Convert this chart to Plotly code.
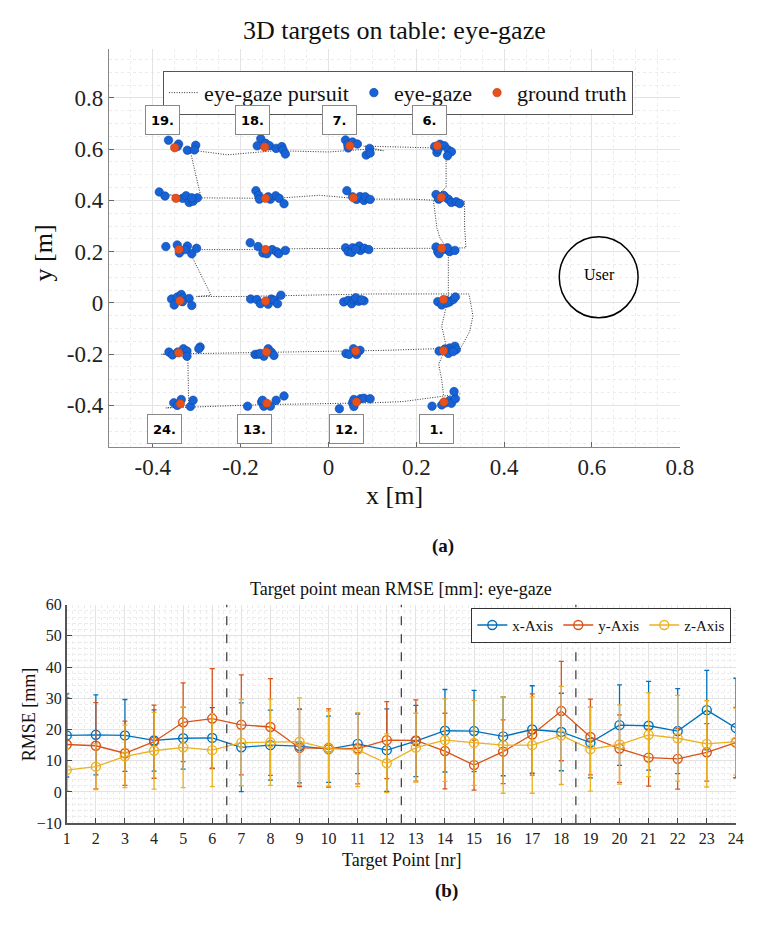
import plotly.graph_objects as go

W, H = 757, 925

# ---------------- top chart data ----------------
gt_x = [0.263, 0.262, 0.262, 0.258, 0.257, 0.248, 0.049, 0.057, 0.057, 0.060, 0.062, 0.064,
        -0.140, -0.141, -0.143, -0.143, -0.143, -0.145, -0.350, -0.347, -0.340, -0.338, -0.341, -0.337]
gt_y = [-0.387, -0.187, 0.013, 0.213, 0.412, 0.613, 0.613, 0.410, 0.209, 0.010, -0.188, -0.387,
        -0.392, -0.192, 0.007, 0.208, 0.408, 0.608, 0.606, 0.408, 0.208, 0.008, -0.195, -0.394]
gt_hidden = [9, 10]  # target numbers whose ground truth is covered by gaze points

gaze_x = [
    0.236, 0.267, 0.276, 0.280, 0.289, 0.286, 0.258,
    0.252, 0.276, 0.288, 0.291, 0.273, 0.284, 0.265,
    0.249, 0.258, 0.268, 0.276, 0.284, 0.289, 0.270,
    0.245, 0.249, 0.265, 0.276, 0.288, 0.252, 0.271,
    0.245, 0.251, 0.265, 0.273, 0.280, 0.291, 0.299, 0.262,
    0.242, 0.254, 0.264, 0.247, 0.273, 0.280, 0.271, 0.250,
    0.039, 0.044, 0.055, 0.066, 0.045, 0.094, 0.086, 0.095,
    0.042, 0.055, 0.064, 0.072, 0.081, 0.084, 0.095,
    0.039, 0.045, 0.055, 0.070, 0.073, 0.082, 0.092, 0.053, 0.062,
    0.035, 0.045, 0.053, 0.058, 0.069, 0.081, 0.062, 0.075,
    0.040, 0.047, 0.057, 0.064, 0.072, 0.066,
    0.025, 0.055, 0.058, 0.073, 0.081, 0.095, 0.058,
    -0.184, -0.152, -0.147, -0.132, -0.119, -0.101, -0.150,
    -0.167, -0.160, -0.147, -0.137, -0.130, -0.124, -0.155,
    -0.177, -0.163, -0.155, -0.137, -0.130, -0.123, -0.116, -0.108,
    -0.178, -0.160, -0.149, -0.140, -0.128, -0.118, -0.113, -0.098,
    -0.165, -0.159, -0.157, -0.132, -0.120, -0.112, -0.101, -0.137,
    -0.154, -0.162, -0.143, -0.134, -0.119, -0.106, -0.103, -0.098,
    -0.364, -0.341, -0.344, -0.321, -0.302, -0.305,
    -0.385, -0.372, -0.332, -0.324, -0.317, -0.308, -0.298, -0.311,
    -0.370, -0.344, -0.339, -0.321, -0.311, -0.300, -0.326,
    -0.357, -0.344, -0.335, -0.330, -0.317, -0.311, -0.351, -0.332,
    -0.363, -0.355, -0.343, -0.330, -0.322, -0.322, -0.292, -0.295,
    -0.352, -0.344, -0.335, -0.314, -0.308,
]
gaze_y = [
    -0.403, -0.390, -0.381, -0.392, -0.374, -0.346, -0.398,
    -0.188, -0.176, -0.169, -0.182, -0.197, -0.190, -0.180,
    0.005, -0.008, 0.010, 0.004, 0.013, 0.023, 0.000,
    0.218, 0.200, 0.209, 0.200, 0.205, 0.192, 0.215,
    0.423, 0.405, 0.414, 0.405, 0.392, 0.395, 0.388, 0.420,
    0.610, 0.619, 0.613, 0.587, 0.597, 0.590, 0.574, 0.600,
    0.636, 0.618, 0.628, 0.620, 0.605, 0.603, 0.577, 0.585,
    0.438, 0.414, 0.404, 0.415, 0.400, 0.414, 0.404,
    0.215, 0.200, 0.215, 0.222, 0.205, 0.213, 0.208, 0.197, 0.210,
    0.004, 0.010, -0.003, 0.013, 0.006, 0.008, 0.020, 0.012,
    -0.197, -0.201, -0.179, -0.201, -0.185, -0.192,
    -0.413, -0.390, -0.404, -0.374, -0.372, -0.374, -0.377,
    -0.403, -0.387, -0.403, -0.403, -0.380, -0.363, -0.380,
    -0.201, -0.200, -0.208, -0.179, -0.192, -0.205, -0.197,
    0.015, 0.013, -0.003, -0.005, 0.015, 0.010, -0.003, 0.030,
    0.235, 0.220, 0.195, 0.192, 0.208, 0.200, 0.192, 0.205,
    0.438, 0.420, 0.405, 0.405, 0.418, 0.408, 0.387, 0.414,
    0.641, 0.613, 0.623, 0.613, 0.603, 0.610, 0.597, 0.581,
    0.635, 0.620, 0.610, 0.596, 0.615, 0.597,
    0.433, 0.417, 0.408, 0.418, 0.392, 0.397, 0.410, 0.410,
    0.220, 0.226, 0.195, 0.222, 0.192, 0.213, 0.208,
    0.015, 0.023, 0.033, 0.019, 0.017, -0.010, -0.008, 0.005,
    -0.192, -0.203, -0.192, -0.179, -0.188, -0.208, -0.172, -0.179,
    -0.390, -0.400, -0.377, -0.404, -0.380,
]

pursuit_x = [0.262, 0.258, 0.251, 0.262, 0.268, 0.258, 0.273, 0.273, 0.273, 0.254, 0.247, 0.239,
             0.268, 0.268, 0.290, 0.260, 0.080, 0.125, 0.090, 0.000, -0.120, -0.230, -0.315,
             -0.290, -0.385, -0.300, -0.120, -0.020, 0.080, 0.190, 0.310, 0.310, 0.313,
             0.250, 0.090, -0.050, -0.200, -0.320, -0.315, -0.267,
             -0.300, -0.200, -0.050, 0.100, 0.200, 0.320, 0.329, 0.322, 0.300,
             0.280, 0.130, -0.050, -0.200, -0.380, -0.320, -0.318,
             -0.370, -0.200, -0.150, 0.100, 0.170, 0.300]
pursuit_y = [-0.360, -0.300, -0.240, -0.195, -0.170, -0.090, 0.020, 0.100, 0.205, 0.254, 0.292, 0.401,
             0.453, 0.562, 0.590, 0.604, 0.612, 0.594, 0.600, 0.589, 0.594, 0.578, 0.597,
             0.412, 0.425, 0.410, 0.408, 0.420, 0.405, 0.405, 0.395, 0.300, 0.215,
             0.213, 0.213, 0.212, 0.208, 0.208, 0.196, 0.030,
             0.025, 0.025, 0.030, 0.035, 0.035, 0.035, -0.050, -0.110, -0.180,
             -0.177, -0.185, -0.190, -0.195, -0.200, -0.210, -0.400,
             -0.410, -0.400, -0.397, -0.390, -0.385, -0.355]

label_text = ["19.", "18.", "7.", "6.", "24.", "13.", "12.", "1."]
label_x = [-0.378, -0.173, 0.025, 0.231, -0.374, -0.169, 0.041, 0.247]
label_y = [0.715, 0.715, 0.715, 0.715, -0.492, -0.492, -0.492, -0.492]

top_xticks = [-0.4, -0.2, 0, 0.2, 0.4, 0.6, 0.8]
top_xlabels = ["-0.4", "-0.2", "0", "0.2", "0.4", "0.6", "0.8"]
top_yticks = [-0.4, -0.2, 0, 0.2, 0.4, 0.6, 0.8]
top_ylabels = ["-0.4", "-0.2", "0", "0.2", "0.4", "0.6", "0.8"]

# ---------------- bottom chart data ----------------
targets = list(range(1, 25))
x_mean = [18.1, 18.3, 18.1, 16.5, 17.2, 17.3, 14.3, 15.0, 14.7, 13.7, 15.4, 13.4,
          16.3, 19.6, 19.5, 17.8, 20.0, 19.2, 15.8, 21.4, 21.2, 19.5, 26.2, 20.5]
x_err = [13.3, 12.8, 11.5, 9.8, 9.9, 9.7, 14.2, 11.2, 11.8, 10.6, 9.5, 13.2,
         11.4, 13.2, 13.0, 12.6, 14.0, 12.4, 11.3, 12.9, 14.2, 13.6, 12.7, 15.9]
y_mean = [15.2, 14.8, 12.4, 16.1, 22.3, 23.5, 21.5, 20.8, 14.1, 14.1, 13.9, 16.6,
          16.5, 13.1, 8.6, 12.9, 18.4, 25.9, 17.6, 13.9, 11.0, 10.6, 12.7, 15.8]
y_err = [15.0, 13.8, 10.3, 11.7, 12.6, 16.0, 16.0, 15.5, 12.4, 12.5, 11.3, 12.3,
         13.0, 12.1, 8.0, 10.2, 13.0, 15.9, 12.1, 10.8, 9.1, 9.7, 9.2, 11.3]
z_mean = [7.0, 8.1, 11.4, 13.2, 14.3, 13.4, 15.8, 15.9, 16.1, 13.9, 13.5, 9.2,
          14.2, 16.6, 15.7, 15.0, 15.0, 18.1, 13.7, 15.2, 18.3, 17.2, 15.4, 16.1]
z_err = [6.8, 7.3, 10.0, 12.3, 12.9, 11.7, 13.8, 13.8, 14.0, 12.0, 11.8, 9.4,
         11.0, 13.2, 13.6, 15.4, 15.4, 15.7, 13.4, 12.7, 13.4, 13.7, 13.8, 10.7]
separators = [6.5, 12.5, 18.5]

SERIF = "Liberation Serif"
BLUE, RED, YEL = "#0072BD", "#D95319", "#EDB120"


def px(x):
    return x / W


def py(y):
    return 1 - y / H


fig = go.Figure()

# pursuit
fig.add_trace(go.Scatter(x=pursuit_x, y=pursuit_y, mode="lines", name="eye-gaze pursuit",
                         line=dict(color="#333", width=1, dash="1px,1.5px"), xaxis="x", yaxis="y"))
# hidden ground truths (under gaze)
hx = [gt_x[i - 1] for i in gt_hidden]
hy = [gt_y[i - 1] for i in gt_hidden]
fig.add_trace(go.Scatter(x=hx, y=hy, mode="markers", showlegend=False,
                         marker=dict(color="#E8501C", size=8.5, line=dict(color="#b83a10", width=0.5)),
                         xaxis="x", yaxis="y"))
fig.add_trace(go.Scatter(x=gaze_x, y=gaze_y, mode="markers", name="eye-gaze",
                         marker=dict(color="#1763D6", size=8.5, line=dict(color="#0d45a8", width=0.6)),
                         xaxis="x", yaxis="y"))
vx = [gt_x[i] for i in range(24) if (i + 1) not in gt_hidden]
vy = [gt_y[i] for i in range(24) if (i + 1) not in gt_hidden]
fig.add_trace(go.Scatter(x=vx, y=vy, mode="markers", name="ground truth",
                         marker=dict(color="#E8501C", size=8.5, line=dict(color="#b83a10", width=0.5)),
                         xaxis="x", yaxis="y"))

# bottom error bars
for name, m, e, c in [("x-Axis", x_mean, x_err, BLUE), ("y-Axis", y_mean, y_err, RED),
                      ("z-Axis", z_mean, z_err, YEL)]:
    fig.add_trace(go.Scatter(x=targets, y=m, mode="lines+markers", name=name,
                             line=dict(color=c, width=1.3),
                             marker=dict(symbol="circle-open", size=9, color=c, line=dict(width=1.4)),
                             error_y=dict(type="data", array=e, visible=True, color=c,
                                          thickness=1.3, width=2.5),
                             xaxis="x2", yaxis="y2", legend="legend2"))

grid_major = "#e3e3e3"
grid_minor = "#ececec"

layout = dict(
    width=W, height=H, margin=dict(l=0, r=0, t=0, b=0),
    paper_bgcolor="white", plot_bgcolor="white",
    font=dict(family=SERIF, color="#222"),
    xaxis=dict(domain=[px(107.3), px(692.3)], range=[-0.5, 0.8], anchor="y",
               tickvals=top_xticks, ticktext=top_xlabels, tickfont=dict(size=23, family=SERIF),
               showline=True, linecolor="#888", linewidth=1, ticks="inside", ticklen=5,
               tickcolor="#666", showgrid=True, gridcolor=grid_major, zeroline=False,
               minor=dict(dtick=0.05, tick0=0, showgrid=True, gridcolor=grid_minor, griddash="dot")),
    yaxis=dict(domain=[py(447), py(42)], range=[-0.5615, 0.99], anchor="x",
               tickvals=top_yticks, ticktext=top_ylabels, tickfont=dict(size=23, family=SERIF),
               showline=True, linecolor="#888", linewidth=1, ticks="inside", ticklen=5,
               tickcolor="#666", showgrid=True, gridcolor=grid_major, zeroline=False,
               minor=dict(dtick=0.05, tick0=0, showgrid=True, gridcolor=grid_minor, griddash="dot")),
    xaxis2=dict(domain=[px(64.3), px(749.7)], range=[1, 24], anchor="y2",
                tickmode="array", tickvals=targets, ticktext=[str(t) for t in targets],
                tickfont=dict(size=16, family=SERIF),
                showline=True, linecolor="#555", linewidth=1.5, ticks="inside", ticklen=5,
                tickcolor="#444", showgrid=True, gridcolor=grid_major, zeroline=False,
                minor=dict(dtick=0.2, tick0=0, showgrid=True, gridcolor=grid_minor, griddash="dot")),
    yaxis2=dict(domain=[py(830.5), py(607.7)], range=[-10, 60], anchor="x2",
                dtick=10, tickfont=dict(size=16, family=SERIF),
                showline=True, linecolor="#555", linewidth=1.5, ticks="inside", ticklen=5,
                tickcolor="#444", showgrid=True, gridcolor=grid_major, zeroline=False,
                minor=dict(dtick=2, showgrid=True, gridcolor=grid_minor, griddash="dot")),
    legend=dict(orientation="h", x=px(163), y=py(64), xanchor="left", yanchor="top",
                bgcolor="white", bordercolor="#555", borderwidth=1,
                font=dict(size=22, family=SERIF, color="#111"), itemwidth=30,
                tracegroupgap=0),
    legend2=dict(orientation="h", x=px(745), y=py(611), xanchor="right", yanchor="top",
                 bgcolor="white", bordercolor="#333", borderwidth=1,
                 font=dict(size=15, family=SERIF, color="#111"), itemwidth=30),
)
fig.update_layout(**layout)

shapes = []
for s in separators:
    shapes.append(dict(type="line", xref="x2", yref="y2", x0=s, x1=s, y0=-10, y1=60,
                       line=dict(color="#333", width=1.2, dash="dash")))
shapes.append(dict(type="circle", xref="x", yref="y", x0=0.5255, x1=0.705, y0=-0.0577, y1=0.2577,
                   line=dict(color="black", width=1.5)))
fig.update_layout(shapes=shapes)

ann = []
for t, x, y in zip(label_text, label_x, label_y):
    ann.append(dict(x=x, y=y, xref="x", yref="y", text="<b>" + t + "</b>", showarrow=False,
                    font=dict(family="DejaVu Sans", size=13, color="black"),
                    bgcolor="white", bordercolor="#888", borderwidth=1, width=29, height=24,
                    borderpad=2))
ann.append(dict(x=0.616, y=0.112, xref="x", yref="y", text="User", showarrow=False,
                font=dict(family=SERIF, size=16, color="black")))


def txt(text, x, y, size, angle=0, bold=False):
    return dict(x=px(x), y=py(y), xref="paper", yref="paper", text=("<b>%s</b>" % text) if bold else text,
                showarrow=False, xanchor="center", yanchor="middle", textangle=angle,
                font=dict(family=SERIF, size=size, color="#111"))


ann += [
    txt("3D targets on table: eye-gaze", 400, 23, 26),
    txt("x [m]", 400, 497, 26),
    txt("y [m]", 40, 250, 26, angle=-90),
    txt("(a)", 450, 548, 19, bold=True),
    txt("Target point mean RMSE [mm]: eye-gaze", 407, 592, 18),
    txt("RMSE [mm]", 25, 719, 18, angle=-90),
    txt("Target Point [nr]", 407, 868, 18),
    txt("(b)", 453, 900, 19, bold=True),
]
fig.update_layout(annotations=ann)

fig.write_html("out.html",
               post_script="document.body.style.margin='0';document.body.style.padding='0';"
                           "document.body.style.overflow='hidden';")
